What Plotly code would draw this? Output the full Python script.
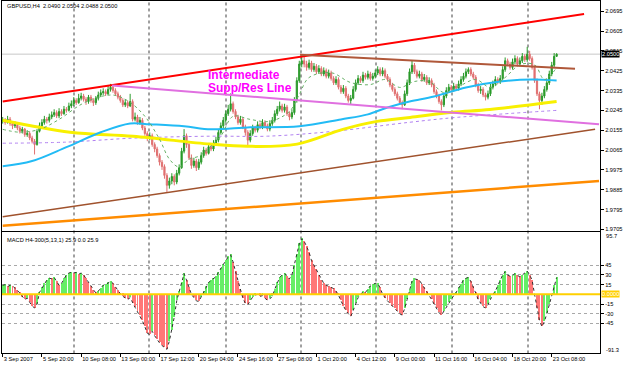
import plotly.graph_objects as go

# ---------------- data ----------------
first_open = 2.0195
closes = [
2.0200, 2.0190, 2.0205, 2.0185, 2.0175, 2.0180, 2.0165,
2.0150, 2.0160, 2.0135, 2.0140, 2.0120, 2.0105, 2.0090,
2.0150, 2.0175, 2.0190, 2.0205, 2.0200, 2.0215, 2.0225,
2.0235, 2.0220, 2.0240, 2.0230, 2.0250, 2.0245, 2.0265, 2.0275,
2.0290, 2.0280, 2.0300, 2.0310, 2.0295, 2.0285, 2.0305, 2.0290, 2.0280, 2.0300, 2.0315, 2.0325,
2.0330, 2.0320, 2.0340, 2.0350, 2.0335, 2.0320,
2.0305, 2.0290, 2.0270, 2.0280, 2.0265, 2.0285,
2.0205,
2.0215, 2.0190, 2.0200, 2.0165,
2.0140, 2.0120, 2.0130, 2.0090, 2.0070, 2.0040, 2.0010,
1.9990, 1.9950, 1.9905, 1.9925,
1.9945, 1.9920, 1.9960, 1.9985,
2.0060, 2.0130, 2.0090,
2.0030, 1.9995, 2.0015, 1.9985, 2.0010,
2.0040, 2.0065, 2.0050, 2.0080, 2.0070,
2.0095, 2.0110, 2.0145,
2.0175, 2.0200, 2.0230, 2.0250,
2.0275, 2.0240,
2.0215, 2.0190, 2.0205, 2.0170,
2.0145, 2.0110, 2.0140,
2.0165, 2.0155, 2.0180, 2.0170, 2.0190, 2.0175, 2.0160, 2.0185, 2.0200,
2.0230, 2.0250, 2.0265, 2.0245, 2.0260,
2.0230, 2.0215, 2.0235,
2.0290, 2.0380, 2.0455,
2.0470, 2.0455,
2.0440, 2.0460, 2.0430, 2.0445, 2.0420, 2.0435, 2.0410, 2.0425, 2.0400, 2.0415, 2.0390,
2.0370, 2.0385, 2.0350, 2.0330, 2.0345, 2.0310, 2.0290, 2.0300,
2.0340, 2.0370, 2.0390, 2.0380, 2.0405, 2.0395, 2.0410, 2.0390, 2.0400,
2.0415, 2.0430, 2.0410, 2.0425, 2.0400, 2.0385,
2.0360, 2.0340, 2.0320, 2.0300, 2.0280, 2.0270,
2.0320, 2.0370, 2.0420, 2.0450, 2.0420,
2.0400, 2.0410, 2.0385, 2.0395, 2.0370, 2.0380, 2.0360,
2.0330, 2.0310, 2.0285, 2.0270,
2.0310, 2.0335, 2.0350, 2.0340, 2.0355, 2.0345, 2.0365,
2.0385, 2.0400, 2.0420, 2.0430, 2.0410, 2.0395,
2.0360, 2.0335, 2.0340, 2.0315, 2.0305, 2.0320,
2.0350, 2.0365, 2.0385, 2.0375, 2.0390,
2.0430, 2.0470, 2.0455,
2.0440, 2.0465, 2.0480, 2.0455, 2.0470, 2.0490, 2.0475, 2.0500, 2.0480,
2.0440, 2.0380, 2.0320,
2.0290, 2.0310,
2.0340, 2.0370, 2.0410, 2.0450, 2.0490, 2.0500,
]
highs = [
2.0215, 2.0210, 2.0220, 2.0215, 2.0195, 2.0195, 2.0190,
2.0175, 2.0170, 2.0165, 2.0155, 2.0150, 2.0130, 2.0115,
2.0160, 2.0190, 2.0205, 2.0220, 2.0215, 2.0230, 2.0240,
2.0250, 2.0245, 2.0255, 2.0250, 2.0265, 2.0260, 2.0280, 2.0290,
2.0305, 2.0300, 2.0320, 2.0325, 2.0320, 2.0305, 2.0315, 2.0315, 2.0300, 2.0310, 2.0330, 2.0340,
2.0345, 2.0340, 2.0355, 2.0365, 2.0360, 2.0345,
2.0330, 2.0315, 2.0300, 2.0295, 2.0290, 2.0320,
2.0295,
2.0235, 2.0225, 2.0215, 2.0210,
2.0175, 2.0150, 2.0145, 2.0140, 2.0100, 2.0080, 2.0050,
2.0020, 2.0000, 1.9960, 1.9940,
1.9960, 1.9955, 1.9975, 2.0000,
2.0075, 2.0160, 2.0140,
2.0100, 2.0045, 2.0030, 2.0025, 2.0025,
2.0055, 2.0080, 2.0075, 2.0095, 2.0090,
2.0110, 2.0125, 2.0160,
2.0190, 2.0215, 2.0245, 2.0270,
2.0322, 2.0285,
2.0250, 2.0225, 2.0220, 2.0215,
2.0180, 2.0155, 2.0155,
2.0180, 2.0175, 2.0195, 2.0190, 2.0205, 2.0200, 2.0185, 2.0200, 2.0215,
2.0245, 2.0265, 2.0285, 2.0275, 2.0275,
2.0270, 2.0240, 2.0250,
2.0305, 2.0395, 2.0470,
2.0495, 2.0490,
2.0470, 2.0475, 2.0470, 2.0460, 2.0455, 2.0450, 2.0445, 2.0440, 2.0435, 2.0430, 2.0425,
2.0400, 2.0400, 2.0395, 2.0360, 2.0360, 2.0355, 2.0320, 2.0315,
2.0355, 2.0385, 2.0405, 2.0400, 2.0420, 2.0415, 2.0425, 2.0420, 2.0415,
2.0430, 2.0445, 2.0440, 2.0440, 2.0435, 2.0410,
2.0395, 2.0370, 2.0350, 2.0330, 2.0310, 2.0290,
2.0335, 2.0385, 2.0435, 2.0470, 2.0460,
2.0430, 2.0425, 2.0420, 2.0410, 2.0405, 2.0395, 2.0390,
2.0370, 2.0340, 2.0320, 2.0295,
2.0325, 2.0350, 2.0365, 2.0360, 2.0370, 2.0365, 2.0380,
2.0400, 2.0415, 2.0435, 2.0440, 2.0440, 2.0420,
2.0405, 2.0370, 2.0355, 2.0350, 2.0325, 2.0335,
2.0365, 2.0380, 2.0400, 2.0395, 2.0405,
2.0445, 2.0485, 2.0480,
2.0465, 2.0480, 2.0495, 2.0490, 2.0485, 2.0505, 2.0500, 2.0533, 2.0515,
2.0490, 2.0450, 2.0390,
2.0330, 2.0325,
2.0355, 2.0385, 2.0425, 2.0465, 2.0505, 2.0504,
]
lows = [
2.0185, 2.0180, 2.0185, 2.0175, 2.0160, 2.0165, 2.0155,
2.0140, 2.0140, 2.0125, 2.0125, 2.0110, 2.0095, 2.0045,
2.0085, 2.0145, 2.0165, 2.0180, 2.0185, 2.0190, 2.0205,
2.0215, 2.0210, 2.0210, 2.0220, 2.0225, 2.0235, 2.0240, 2.0255,
2.0265, 2.0270, 2.0275, 2.0290, 2.0285, 2.0270, 2.0275, 2.0280, 2.0265, 2.0270, 2.0290, 2.0305,
2.0315, 2.0310, 2.0315, 2.0330, 2.0325, 2.0310,
2.0295, 2.0280, 2.0260, 2.0260, 2.0255, 2.0260,
2.0195,
2.0195, 2.0180, 2.0180, 2.0155,
2.0130, 2.0105, 2.0110, 2.0080, 2.0055, 2.0030, 1.9995,
1.9975, 1.9935, 1.9875, 1.9890,
1.9910, 1.9905, 1.9910, 1.9950,
1.9980, 2.0050, 2.0075,
2.0020, 1.9980, 1.9985, 1.9970, 1.9975,
2.0000, 2.0030, 2.0040, 2.0045, 2.0060,
2.0060, 2.0085, 2.0100,
2.0135, 2.0165, 2.0190, 2.0220,
2.0240, 2.0230,
2.0205, 2.0180, 2.0180, 2.0160,
2.0130, 2.0085, 2.0100,
2.0130, 2.0145, 2.0145, 2.0160, 2.0160, 2.0165, 2.0150, 2.0150, 2.0175,
2.0190, 2.0220, 2.0240, 2.0235, 2.0235,
2.0220, 2.0200, 2.0205,
2.0225, 2.0280, 2.0370,
2.0440, 2.0440,
2.0425, 2.0430, 2.0420, 2.0420, 2.0410, 2.0410, 2.0400, 2.0400, 2.0390, 2.0390, 2.0380,
2.0360, 2.0360, 2.0340, 2.0320, 2.0320, 2.0300, 2.0280, 2.0270,
2.0295, 2.0330, 2.0360, 2.0370, 2.0370, 2.0385, 2.0385, 2.0380, 2.0380,
2.0390, 2.0405, 2.0400, 2.0400, 2.0390, 2.0375,
2.0350, 2.0330, 2.0310, 2.0290, 2.0270, 2.0250,
2.0265, 2.0310, 2.0360, 2.0410, 2.0410,
2.0390, 2.0390, 2.0375, 2.0375, 2.0360, 2.0360, 2.0350,
2.0320, 2.0300, 2.0275, 2.0245,
2.0260, 2.0300, 2.0325, 2.0330, 2.0330, 2.0335, 2.0335,
2.0355, 2.0375, 2.0390, 2.0410, 2.0400, 2.0385,
2.0350, 2.0325, 2.0320, 2.0305, 2.0290, 2.0295,
2.0310, 2.0340, 2.0355, 2.0365, 2.0365,
2.0380, 2.0420, 2.0445,
2.0430, 2.0430, 2.0455, 2.0445, 2.0445, 2.0460, 2.0465, 2.0465, 2.0470,
2.0430, 2.0370, 2.0310,
2.0250, 2.0270,
2.0300, 2.0330, 2.0360, 2.0400, 2.0440, 2.0488,
]
opens = [first_open] + closes[:-1]

macd = [
14, 15, 12, 14, 13, 10, 6,
2, -4, -8, -6, -12, -18, -21, -15,
3, 10, 17, 22, 25, 24, 26, 20, 14, 17, 24, 30, 33, 34, 33, 34, 31, 33, 30, 24,
18, 12, 6, 2, 5, 9, 14, 15, 18, 20, 17, 11, 6, 1,
-3, -6, -8, -5, -14, -20, -27, -33, -41, -50, -60, -62, -57, -64, -70, -75, -79, -82, -85, -72, -55, -35, -10,
5, 18, 32, 22, 10, 0, -5, -10, -11, -4,
4, 12, 18, 22, 24, 27, 34, 40, 47, 52, 58, 61, 50, 35, 20, 8,
-6, -14, -16, -10, -4, -1, 0, -3, -2, -6, -9, -7, -3,
8, 18, 26, 30, 32, 28, 24, 30, 45, 62, 78, 86, 82, 74, 65, 52, 45, 38, 30, 22, 17, 14, 12, 10, 9, 5,
-1, -10, -18, -25, -30, -34, -25, -14, -5, 0, 4, 3, 8, 13, 15, 17, 17, 10, 0,
-6, -10, -14, -18, -22, -26, -30, -32, -22, -8,
8, 20, 24, 23, 22, 16, 10, 5, 0,
-8, -15, -22, -28, -32, -26, -18, -12, -8, -2,
3, 10, 16, 22, 25, 26, 20, 12, 2,
-8, -14, -19, -21, -16, -8, 0,
5, 14, 22, 30, 35, 30, 28, 29, 32, 30, 27, 30, 33, 36, 30, 22, 0,
-22, -40, -50, -42, -30, -15, 0, 14, 25.9,
]

# moving averages read at a few bars (bar index, price)
ma_yellow_x = [0, 27.5, 53.2, 84.6, 99.7, 120.1, 138.8, 152.7, 166.2, 183.7, 198.8, 226]
ma_yellow_y = [2.0200, 2.0146, 2.0128, 2.0092, 2.0082, 2.0092, 2.0159, 2.0195, 2.0213, 2.0236, 2.0249, 2.0285]
ma_blue_x = [0, 12, 26, 40, 52, 60, 74, 85, 101, 121, 138, 149, 157, 166, 176, 189, 203, 216, 226]
ma_blue_y = [1.9992, 2.0015, 2.0078, 2.0146, 2.0186, 2.0182, 2.0173, 2.0159, 2.0168, 2.0173, 2.0204,
             2.0227, 2.0258, 2.0285, 2.0308, 2.0349, 2.0376, 2.0385, 2.0380]
ma_violet_x = [0, 26, 53, 85, 108, 135, 166, 185, 226]
ma_violet_y = [2.0096, 2.0101, 2.0119, 2.0128, 2.0128, 2.0150, 2.0191, 2.0213, 2.0245]
ma_green_x = [0, 7, 15, 23, 32, 40, 46, 52, 58, 64, 68, 72, 76, 80, 85, 89, 94, 101, 109, 117, 121, 125,
              134, 142, 150, 156, 162, 168, 174, 180, 186, 193, 199, 205, 211, 217, 221, 226]
ma_green_y = [2.0159, 2.0146, 2.0159, 2.0204, 2.0272, 2.0308, 2.0313, 2.0281, 2.0218, 2.0114, 2.0024,
              1.9988, 2.0024, 2.0037, 2.0083, 2.0128, 2.0218, 2.0204, 2.0195, 2.0240, 2.0317, 2.0394,
              2.0416, 2.0371, 2.0362, 2.0385, 2.0349, 2.0376, 2.0376, 2.0326, 2.0353, 2.0385, 2.0349,
              2.0394, 2.0452, 2.0452, 2.0385, 2.0439]

# hand-drawn trend lines (bar index, price)
red_x, red_y = [0, 237.2], [2.0285, 2.0682]
pink_x, pink_y = [44.6, 243.3], [2.0358, 2.0182]
brown_top_x, brown_top_y = [121.3, 233.5], [2.0497, 2.0434]
brown_low_x, brown_low_y = [0, 241.7], [1.97623, 2.01592]
orange_x, orange_y = [0, 243.3], [1.97217, 1.99246]

price_ticks = [2.0695, 2.0605, 2.0515, 2.0425, 2.0335, 2.0245, 2.0155, 2.0065, 1.9975, 1.9885, 1.9795, 1.9705]
macd_ticks = [45, 30, 15, -15, -30, -45]
date_ticks = [0, 16, 32, 48, 64, 80, 96, 112, 128, 144, 160, 176, 192, 208, 224]
date_labels = ["3 Sep 2007", "5 Sep 20:00", "10 Sep 08:00", "13 Sep 00:00", "17 Sep 12:00",
               "20 Sep 04:00", "24 Sep 16:00", "27 Sep 08:00", "1 Oct 20:00", "4 Oct 12:00",
               "9 Oct 00:00", "11 Oct 16:00", "16 Oct 04:00", "18 Oct 20:00", "23 Oct 08:00"]
last_price = 2.0500

n = len(closes)
if not (len(highs) == len(lows) == len(macd) == n):
    raise SystemExit(f"length mismatch {n} {len(highs)} {len(lows)} {len(macd)}")
idx = list(range(n))

# ---------------- figure ----------------
W, H = 625, 367
def PX(x): return x / W
def PY(y): return 1 - y / H

FONT = "Liberation Sans"
FS = 5.7
fig = go.Figure()

# trend lines below candles
for xs, ys, col, w in [(orange_x, orange_y, "#ff8c00", 2.5), (brown_low_x, brown_low_y, "#a0522d", 1.5)]:
    fig.add_trace(go.Scatter(x=xs, y=ys, mode="lines", line=dict(color=col, width=w),
                             xaxis="x", yaxis="y", hoverinfo="skip"))

fig.add_trace(go.Scatter(x=ma_violet_x, y=ma_violet_y, mode="lines", line=dict(color="#b080f0", width=1, dash="dot", shape="spline"),
                         xaxis="x", yaxis="y"))
fig.add_trace(go.Scatter(x=ma_yellow_x, y=ma_yellow_y, mode="lines", line=dict(color="#f8f000", width=3, shape="spline"),
                         xaxis="x", yaxis="y"))
fig.add_trace(go.Scatter(x=ma_blue_x, y=ma_blue_y, mode="lines", line=dict(color="#22bbf5", width=2, shape="spline"),
                         xaxis="x", yaxis="y"))
fig.add_trace(go.Scatter(x=ma_green_x, y=ma_green_y, mode="lines", line=dict(color="#66b066", width=1, dash="dot", shape="spline"),
                         xaxis="x", yaxis="y"))

fig.add_trace(go.Candlestick(x=idx, open=opens, high=highs, low=lows, close=closes,
                             increasing=dict(line=dict(color="#2a9a2a", width=1), fillcolor="#2a9a2a"),
                             decreasing=dict(line=dict(color="#e07070", width=1), fillcolor="#e07070"),
                             whiskerwidth=0, xaxis="x", yaxis="y"))

for xs, ys, col, w in [(red_x, red_y, "#ff0000", 2), (pink_x, pink_y, "#e070e0", 2),
                       (brown_top_x, brown_top_y, "#b0583a", 2)]:
    fig.add_trace(go.Scatter(x=xs, y=ys, mode="lines", line=dict(color=col, width=w),
                             xaxis="x", yaxis="y", hoverinfo="skip"))

# MACD histogram
bar_cols = ["#66ee66" if (i == 0 or macd[i] >= macd[i - 1]) else "#ff7777" for i in idx]
fig.add_trace(go.Bar(x=idx, y=macd, width=0.4, marker=dict(color=bar_cols, line=dict(width=0)),
                     xaxis="x2", yaxis="y2"))
fig.add_trace(go.Scatter(x=idx, y=macd, mode="lines", line=dict(color="#303030", width=1, dash="dot"),
                         xaxis="x2", yaxis="y2"))

xr = [-0.286, 243.7]
xdom = [PX(2), PX(600)]
axis_common = dict(showline=True, linecolor="#000000", linewidth=1, mirror=True, zeroline=False)
fig.update_layout(
    width=W, height=H, margin=dict(l=0, r=0, t=0, b=0),
    paper_bgcolor="white", plot_bgcolor="white", showlegend=False,
    font=dict(family=FONT, size=FS, color="#000000"),
    bargap=0,
    xaxis=dict(domain=xdom, range=xr, anchor="y", showticklabels=False, showgrid=False,
               rangeslider=dict(visible=False), ticks="", **axis_common),
    yaxis=dict(domain=[PY(232), PY(1)], range=[1.96991, 2.07411], side="right", anchor="x",
               showgrid=False, tickvals=price_ticks, ticktext=[f"{v:.4f}" for v in price_ticks],
               ticks="outside", ticklen=3, tickcolor="#000000", **axis_common),
    xaxis2=dict(domain=xdom, range=xr, anchor="y2", matches="x", showgrid=False,
                tickvals=date_ticks, ticktext=date_labels, ticks="outside", ticklen=3, tickangle=0,
                tickcolor="#000000", ticklabelposition="outside right", **axis_common),
    yaxis2=dict(domain=[PY(355.4), PY(233.7)], range=[-91.3, 95.7], side="right", anchor="x2",
                tickvals=macd_ticks, ticktext=[str(v) for v in macd_ticks],
                showgrid=True, gridcolor="#a8a8a8", griddash="dot", gridwidth=1,
                ticks="outside", ticklen=3, tickcolor="#000000", **axis_common),
)

shapes = []
for gx in [74, 149, 226, 301, 376, 452, 528]:
    shapes.append(dict(type="line", xref="paper", yref="paper", x0=PX(gx), x1=PX(gx),
                       y0=PY(355.4), y1=PY(1), line=dict(color="#404040", width=1, dash="dot"), layer="below"))
shapes.append(dict(type="line", xref="paper", yref="y", x0=xdom[0], x1=xdom[1], y0=last_price, y1=last_price,
                   line=dict(color="#c8c8c8", width=1), layer="below"))
shapes.append(dict(type="line", xref="paper", yref="y2", x0=xdom[0], x1=xdom[1], y0=0, y1=0,
                   line=dict(color="#ffd000", width=2), layer="above"))
fig.update_layout(shapes=shapes)

ann = [
    dict(x=PX(5), y=PY(6), xref="paper", yref="paper", xanchor="left", yanchor="middle", showarrow=False,
         text="GBPUSD,H4  2.0490 2.0504 2.0488 2.0500", font=dict(size=FS, color="#000000")),
    dict(x=PX(5), y=PY(241), xref="paper", yref="paper", xanchor="left", yanchor="middle", showarrow=False,
         text="MACD H4-300(5,13,1) 25.9 0.0 25.9", font=dict(size=FS, color="#000000")),
    dict(x=PX(206), y=PY(75), xref="paper", yref="paper", xanchor="left", yanchor="middle", showarrow=False,
         height=13, valign="middle", text="<b>Intermediate</b>",
         font=dict(size=12, color="#ff00ff", family="Liberation Sans")),
    dict(x=PX(206), y=PY(88), xref="paper", yref="paper", xanchor="left", yanchor="middle", showarrow=False,
         height=13, valign="middle", text="<b>Supp/Res Line</b>",
         font=dict(size=12, color="#ff00ff", family="Liberation Sans")),
    dict(x=PX(601), y=last_price, xref="paper", yref="y", xanchor="left", yanchor="middle", showarrow=False,
         text="2.0500", bgcolor="#000000", font=dict(size=FS, color="#ffffff"), borderpad=0),
    dict(x=PX(601), y=0, xref="paper", yref="y2", xanchor="left", yanchor="middle", showarrow=False,
         text="0.0000", bgcolor="#ffd000", font=dict(size=FS, color="#ffffff"), borderpad=0),
    dict(x=PX(604), y=PY(237.5), xref="paper", yref="paper", xanchor="left", yanchor="middle", showarrow=False,
         text="95.7", font=dict(size=FS, color="#000000")),
    dict(x=PX(604), y=PY(351.5), xref="paper", yref="paper", xanchor="left", yanchor="middle", showarrow=False,
         text="-91.3", font=dict(size=FS, color="#000000")),
]
fig.update_layout(annotations=ann)

fig.write_html("out.html")
